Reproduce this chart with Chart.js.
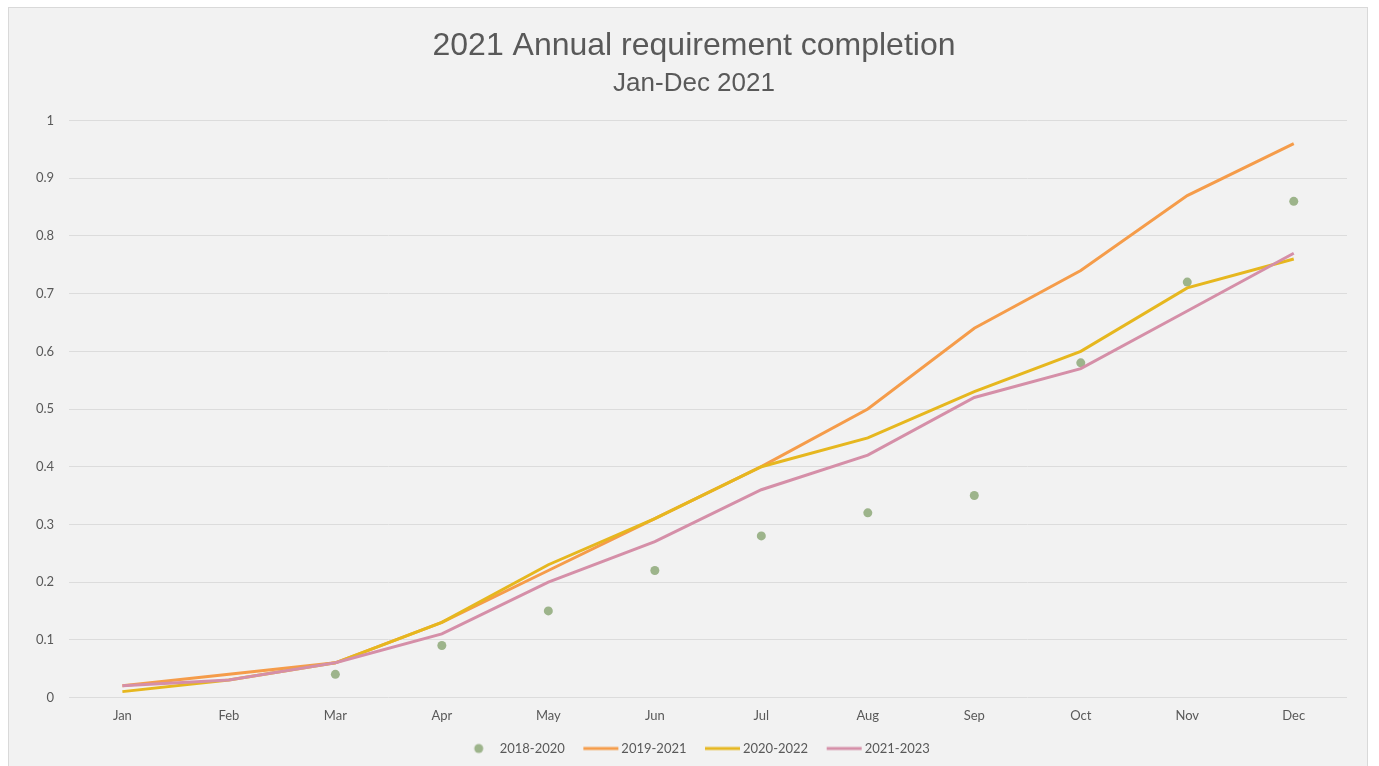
<!DOCTYPE html>
<html>
<head>
<meta charset="utf-8">
<script src="https://cdn.jsdelivr.net/npm/chart.js@4.4.0/dist/chart.umd.min.js"></script>
<style>
  html, body { margin: 0; padding: 0; background: #ffffff; width: 1379px; height: 766px; overflow: hidden; }
  #frame { position: absolute; left: 8px; top: 7px; width: 1360px; height: 780px; box-sizing: border-box;
           background: #f2f2f2; border: 1px solid #d9d9d9; }
  #wrap { position: absolute; left: 0; top: 0; width: 1358px; height: 758px; }
</style>
</head>
<body>
<div id="frame"><div id="wrap"><canvas id="c"></canvas></div></div>
<script>
const categories = ['Jan','Feb','Mar','Apr','May','Jun','Jul','Aug','Sep','Oct','Nov','Dec'];
const seriesNames = ['2018-2020','2019-2021','2020-2022','2021-2023'];
const s2018_2020 = [null, null, 0.04, 0.09, 0.15, 0.22, 0.28, 0.32, 0.35, 0.58, 0.72, 0.86];
const s2019_2021 = [0.02, 0.04, 0.06, 0.13, 0.22, 0.31, 0.40, 0.50, 0.64, 0.74, 0.87, 0.96];
const s2020_2022 = [0.01, 0.03, 0.06, 0.13, 0.23, 0.31, 0.40, 0.45, 0.53, 0.60, 0.71, 0.76];
const s2021_2023 = [0.02, 0.03, 0.06, 0.11, 0.20, 0.27, 0.36, 0.42, 0.52, 0.57, 0.67, 0.77];
const yTicks = [0, 0.1, 0.2, 0.3, 0.4, 0.5, 0.6, 0.7, 0.8, 0.9, 1];

const colors = ['#9db48b', '#f59c4a', '#e6b71f', '#d58fa8'];

function legendImage(kind, color) {
  const cv = document.createElement('canvas');
  cv.width = 46; cv.height = 12;
  const g = cv.getContext('2d');
  if (kind === 'dot') {
    g.fillStyle = color;
    g.beginPath(); g.arc(26, 6, 4.5, 0, Math.PI * 2); g.fill();
  } else {
    g.strokeStyle = color; g.lineWidth = 3;
    g.beginPath(); g.moveTo(9, 6); g.lineTo(44, 6); g.stroke();
  }
  return cv;
}

const datasets = [
  { label: seriesNames[0], data: s2018_2020, showLine: false, borderColor: colors[0], backgroundColor: colors[0],
    pointRadius: 4.5, pointHoverRadius: 4.5, pointBorderWidth: 0, order: 4 },
  { label: seriesNames[1], data: s2019_2021, borderColor: colors[1], backgroundColor: colors[1], borderWidth: 3,
    pointRadius: 0, tension: 0, order: 3 },
  { label: seriesNames[2], data: s2020_2022, borderColor: colors[2], backgroundColor: colors[2], borderWidth: 3,
    pointRadius: 0, tension: 0, order: 2 },
  { label: seriesNames[3], data: s2021_2023, borderColor: colors[3], backgroundColor: colors[3], borderWidth: 3,
    pointRadius: 0, tension: 0, order: 1 }
];

new Chart(document.getElementById('c'), {
  type: 'line',
  data: { labels: categories, datasets: datasets },
  options: {
    responsive: true,
    maintainAspectRatio: false,
    animation: false,
    layout: { padding: { left: 12, right: 0, top: 0, bottom: 1 } },
    plugins: {
      title: {
        display: true,
        text: '2021 Annual requirement completion',
        color: '#595959',
        font: { family: '"Liberation Sans", Arial, sans-serif', size: 32, weight: 'normal' },
        padding: { top: 19, bottom: 0 }
      },
      subtitle: {
        display: true,
        text: 'Jan-Dec 2021',
        color: '#595959',
        font: { family: '"Liberation Sans", Arial, sans-serif', size: 26, weight: 'normal' },
        padding: { top: 3, bottom: 21 }
      },
      legend: {
        position: 'bottom',
        labels: {
          usePointStyle: true,
          pointStyleWidth: 35,
          padding: 15,
          color: '#595959',
          font: { family: 'Lato, "Open Sans", sans-serif', size: 13 },
          generateLabels: function (chart) {
            return chart.data.datasets.map(function (ds, i) {
              return {
                text: ds.label,
                fillStyle: ds.backgroundColor,
                strokeStyle: ds.borderColor,
                lineWidth: 0,
                pointStyle: legendImage(i === 0 ? 'dot' : 'line', ds.borderColor),
                hidden: false,
                datasetIndex: i,
                fontColor: '#595959'
              };
            });
          }
        }
      },
      tooltip: { enabled: false }
    },
    scales: {
      x: {
        offset: true,
        grid: { display: false },
        border: { display: false },
        ticks: { color: '#595959', padding: 3, font: { family: 'Lato, "Open Sans", sans-serif', size: 13 } }
      },
      y: {
        min: 0, max: 1,
        afterBuildTicks: function (axis) { axis.ticks = yTicks.map(function (v) { return { value: v }; }); },
        grid: { color: '#dcdcdc', lineWidth: 1, drawTicks: false },
        border: { display: false },
        ticks: { color: '#595959', padding: 15, font: { family: 'Lato, "Open Sans", sans-serif', size: 13 },
                 callback: function (v) { return String(Math.round(v * 10) / 10); } }
      },
      yRight: {
        type: 'linear',
        position: 'right',
        min: 0, max: 1,
        grid: { display: false },
        border: { display: false },
        ticks: { display: false },
        afterFit: function (axis) { axis.width = 20; }
      }
    }
  }
});
</script>
</body>
</html>
